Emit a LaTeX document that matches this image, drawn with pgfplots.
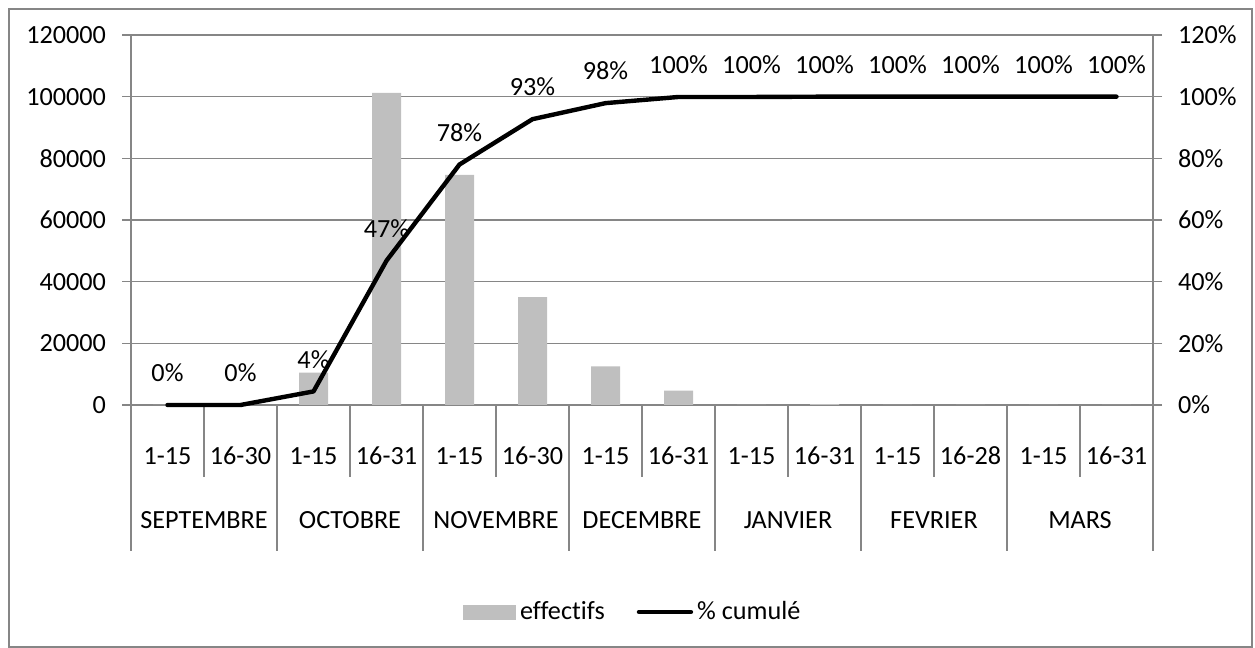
\documentclass[border=0pt]{standalone}
\usepackage{pgfplots}
\pgfplotsset{compat=1.18}
\usepackage{fontspec}
\setmainfont[Ligatures=CommonOff]{Carlito}
\definecolor{barcol}{HTML}{BFBFBF}
\definecolor{axcol}{HTML}{868686}
\pgfplotsset{every axis/.append style={font=\fontsize{13.1}{15}\selectfont}}
\begin{document}
\begin{tikzpicture}
\useasboundingbox (0,0) rectangle (627.5pt,324pt);
\draw[axcol, line width=1pt] (4.5pt,0.5pt) rectangle (626pt,319.5pt);
\begin{axis}[
  at={(65.5pt,121.5pt)}, anchor=south west,
  scale only axis, width=511pt, height=185pt,
  xmin=-0.5, xmax=13.5, ymin=0, ymax=120000,
  ytick={0,20000,40000,60000,80000,100000,120000},
  yticklabels={0,20000,40000,60000,80000,100000,120000},
  scaled y ticks=false,
  yticklabel style={xshift=-4.5pt},
  ymajorgrids, grid style={axcol, line width=0.8pt},
  axis line style={axcol, line width=0.8pt},
  y tick style={axcol, line width=0.8pt},
  tick align=outside, major tick length=4.5pt,
  axis y line*=left,
  axis x line*=bottom,
  xtick={0,...,13},
  xticklabels={1-15,16-30,1-15,16-31,1-15,16-30,1-15,16-31,1-15,16-31,1-15,16-28,1-15,16-31},
  x tick style={draw=none},
  xticklabel style={anchor=center, yshift=-21pt},
  clip=false,
]
\addplot[ybar, bar width=14.5pt, fill=barcol, draw=none] coordinates {
 (0,0) (1,0) (2,10500) (3,101200) (4,74600) (5,35000) (6,12500)
 (7,4700) (8,0) (9,300) (10,0) (11,0) (12,0) (13,0)};
\pgfplotsinvokeforeach{0.5,2.5,4.5,6.5,8.5,10.5,12.5}{
  \draw[axcol, line width=0.8pt] (axis cs:#1,0) -- ++(0pt,-36pt);}
\pgfplotsinvokeforeach{-0.5,1.5,3.5,5.5,7.5,9.5,11.5,13.5}{
  \draw[axcol, line width=0.8pt] (axis cs:#1,0) -- ++(0pt,-73pt);}
\node at ([yshift=-57.5pt]axis cs:0.5,0) {SEPTEMBRE};
\node at ([yshift=-57.5pt]axis cs:2.5,0) {OCTOBRE};
\node at ([yshift=-57.5pt]axis cs:4.5,0) {NOVEMBRE};
\node at ([yshift=-57.5pt]axis cs:6.5,0) {DECEMBRE};
\node at ([yshift=-57.5pt]axis cs:8.5,0) {JANVIER};
\node at ([yshift=-57.5pt]axis cs:10.5,0) {FEVRIER};
\node at ([yshift=-57.5pt]axis cs:12.5,0) {MARS};
\end{axis}
\begin{axis}[
  at={(65.5pt,121.5pt)}, anchor=south west,
  scale only axis, width=511pt, height=185pt,
  xmin=-0.5, xmax=13.5, ymin=0, ymax=1.2,
  axis y line*=right, axis x line=none,
  ytick={0,0.2,0.4,0.6,0.8,1.0,1.2},
  yticklabels={0\%,20\%,40\%,60\%,80\%,100\%,120\%},
  yticklabel style={xshift=4.5pt},
  axis line style={axcol, line width=0.8pt},
  y tick style={axcol, line width=0.8pt},
  tick align=outside, major tick length=4.5pt,
  clip=false,
  legend style={at={(0.492,-0.5595)}, anchor=center, draw=none, fill=none,
    legend columns=2, /tikz/every even column/.append style={column sep=14pt},
    font=\fontsize{13.1}{15}\selectfont},
]
\addlegendimage{legend image code/.code={\fill[barcol] (0pt,-3.5pt) rectangle (26pt,3.5pt);}}
\addlegendentry{effectifs}
\addplot[black, line width=2.2pt, line join=round, line cap=round,
  legend image code/.code={\draw[line width=2.2pt] (0pt,0pt) -- (26pt,0pt);},
  point meta=explicit symbolic, nodes near coords,
  every node near coord/.append style={anchor=center, yshift=16pt, black}]
 coordinates {
 (0,0) [0\%] (1,0) [0\%] (2,0.044) [4\%] (3,0.468) [47\%] (4,0.780) [78\%]
 (5,0.927) [93\%] (6,0.979) [98\%] (7,0.999) [100\%] (8,0.999) [100\%]
 (9,1.0) [100\%] (10,1.0) [100\%] (11,1.0) [100\%] (12,1.0) [100\%] (13,1.0) [100\%]};
\addlegendentry{\% cumulé}
\end{axis}
\end{tikzpicture}
\end{document}
